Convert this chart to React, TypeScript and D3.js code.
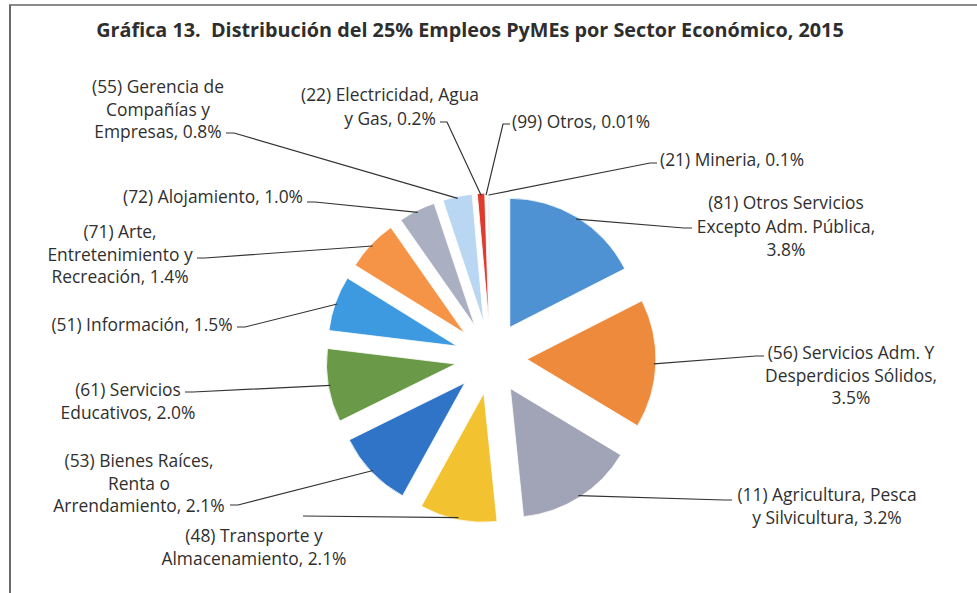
import React from 'react';
import * as d3 from 'd3';

// ---------- data ----------
const codes = ['81', '56', '11', '48', '53', '61', '51', '71', '72', '55', '22', '99', '21'];
const sectors = [
  'Otros Servicios Excepto Adm. Pública',
  'Servicios Adm. Y Desperdicios Sólidos',
  'Agricultura, Pesca y Silvicultura',
  'Transporte y Almacenamiento',
  'Bienes Raíces, Renta o Arrendamiento',
  'Servicios Educativos',
  'Información',
  'Arte, Entretenimiento y Recreación',
  'Alojamiento',
  'Gerencia de Compañías y Empresas',
  'Electricidad, Agua y Gas',
  'Otros',
  'Mineria',
];
const values = [3.8, 3.5, 3.2, 2.1, 2.1, 2.0, 1.5, 1.4, 1.0, 0.8, 0.2, 0.01, 0.1];
const labelLines = [
  ['(81) Otros Servicios', 'Excepto Adm. Pública,', '3.8%'],
  ['(56) Servicios Adm. Y', 'Desperdicios Sólidos,', '3.5%'],
  ['(11) Agricultura, Pesca', 'y Silvicultura, 3.2%'],
  ['(48) Transporte y', 'Almacenamiento, 2.1%'],
  ['(53) Bienes Raíces,', 'Renta o', 'Arrendamiento, 2.1%'],
  ['(61) Servicios', 'Educativos, 2.0%'],
  ['(51) Información, 1.5%'],
  ['(71) Arte,', 'Entretenimiento y', 'Recreación, 1.4%'],
  ['(72) Alojamiento, 1.0%'],
  ['(55) Gerencia de', 'Compañías y', 'Empresas, 0.8%'],
  ['(22) Electricidad, Agua', 'y Gas, 0.2%'],
  ['(99) Otros, 0.01%'],
  ['(21) Mineria, 0.1%'],
];
const title = 'Gráfica 13.  Distribución del 25% Empleos PyMEs por Sector Económico, 2015';

// ---------- styles / layout ----------
const colors = [
  '#4F92D3', '#EE8A3C', '#A0A4B6', '#F2C230', '#2F74C6', '#6A9A48',
  '#3D9AE0', '#F59346', '#AAAFC2', '#B9D7F2', '#E0392E', '#F2F2F2', '#F4F4F4',
];
// label layout: text centre x, first line centre y, line height, anchor, leader start (lx,ly), hook length
const layout = [
  { x: 786, y: 203, lh: 23.5, anchor: 'middle', lx: 692, ly: 228, hook: -8 },
  { x: 851, y: 353, lh: 22.5, anchor: 'middle', lx: 764, ly: 356, hook: -8 },
  { x: 827, y: 495, lh: 23, anchor: 'middle', lx: 732, ly: 500, hook: -8 },
  { x: 254, y: 536, lh: 22.5, anchor: 'middle', lx: 303, ly: 516, hook: 0 },
  { x: 139, y: 461, lh: 22.5, anchor: 'middle', lx: 230, ly: 505, hook: 8 },
  { x: 128, y: 390, lh: 23, anchor: 'middle', lx: 185, ly: 392, hook: 8 },
  { x: 142, y: 325, lh: 22, anchor: 'middle', lx: 237, ly: 327, hook: 8 },
  { x: 120, y: 232, lh: 22.5, anchor: 'middle', lx: 197, ly: 258, hook: 8 },
  { x: 213, y: 197, lh: 22, anchor: 'middle', lx: 307, ly: 202, hook: 8 },
  { x: 158, y: 87, lh: 22.5, anchor: 'middle', lx: 226, ly: 133, hook: 8 },
  { x: 390, y: 95, lh: 24, anchor: 'middle', lx: 440, ly: 122, hook: 7 },
  { x: 512, y: 122, lh: 22, anchor: 'start', lx: 510, ly: 124, hook: -7 },
  { x: 660, y: 160, lh: 22, anchor: 'start', lx: 657, ly: 163, hook: -7 },
];

const W = 977;
const H = 593;
const CX = 491;
const CY = 358;
const R = 129;
const EXPLODE = 36;
const FONT = "'Open Sans', 'Noto Sans', sans-serif";

export default function App() {
  const pie = d3.pie<number>().sort(null).value((d) => d)(values);
  const arc = d3.arc<d3.PieArcDatum<number>>().innerRadius(0).outerRadius(R);

  return (
    <svg
      width={W}
      height={H}
      viewBox={`0 0 ${W} ${H}`}
      style={{ position: 'absolute', left: 0, top: 0, background: '#fff' }}
    >
      <rect x={0} y={0} width={W} height={H} fill="#fff" />
      {/* frame */}
      <line x1={9} y1={5} x2={W} y2={5} stroke="#8a8a8a" strokeWidth={2} />
      <line x1={10} y1={5} x2={10} y2={H} stroke="#6a6a6a" strokeWidth={2} />

      <text
        x={470}
        y={30}
        dy="0.35em"
        textAnchor="middle"
        fontFamily={FONT}
        fontWeight={700}
        fontSize={19.8}
        fill="#2e2e2e"
        style={{ whiteSpace: 'pre' }}
      >
        {title}
      </text>

      {/* slices */}
      <g>
        {pie.map((p, i) => {
          const mid = (p.startAngle + p.endAngle) / 2;
          const ox = CX + EXPLODE * Math.sin(mid);
          const oy = CY - EXPLODE * Math.cos(mid);
          return (
            <path
              key={codes[i]}
              d={arc(p) || ''}
              transform={`translate(${ox},${oy})`}
              fill={colors[i]}
              stroke="#fff"
              strokeWidth={0.8}
            >
              <title>{`(${codes[i]}) ${sectors[i]}`}</title>
            </path>
          );
        })}
      </g>

      {/* leader lines */}
      <g fill="none" stroke="#333" strokeWidth={1.2}>
        {pie.map((p, i) => {
          const mid = (p.startAngle + p.endAngle) / 2;
          const rr = EXPLODE + R - 2;
          const ex = CX + rr * Math.sin(mid);
          const ey = CY - rr * Math.cos(mid);
          const L = layout[i];
          const path = d3.path();
          path.moveTo(L.lx, L.ly);
          if (L.hook !== 0) path.lineTo(L.lx + L.hook, L.ly);
          path.lineTo(ex, ey);
          return <path key={codes[i]} d={path.toString()} />;
        })}
      </g>

      {/* labels */}
      <g fontFamily={FONT} fontSize={17.4} fill="#2f2f2f">
        {labelLines.map((lines, i) => {
          const L = layout[i];
          return (
            <text key={codes[i]} textAnchor={L.anchor} x={L.x} y={L.y}>
              {lines.map((ln, j) => (
                <tspan key={j} x={L.x} y={L.y + j * L.lh} dy="0.35em">
                  {ln}
                </tspan>
              ))}
            </text>
          );
        })}
      </g>
    </svg>
  );
}
